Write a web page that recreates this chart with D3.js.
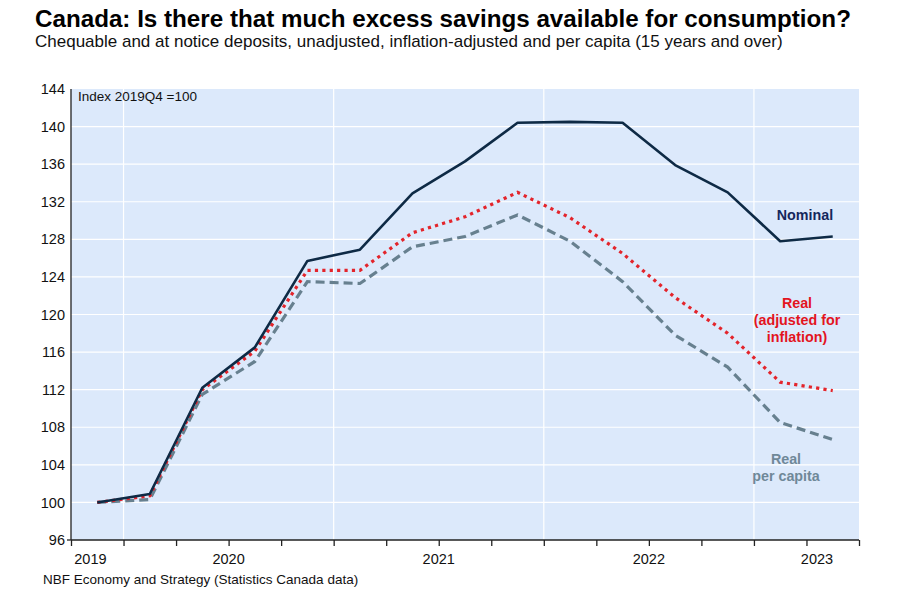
<!DOCTYPE html>
<html><head><meta charset="utf-8">
<script src="https://cdn.jsdelivr.net/npm/d3@7/dist/d3.min.js"></script>
<style>body{margin:0;background:#fff}svg{display:block}text{font-family:"Liberation Sans",Arial,sans-serif}</style>
</head><body>
<script>
// Quarters 2019Q4 .. 2023Q2
const quarters = ["2019Q4","2020Q1","2020Q2","2020Q3","2020Q4","2021Q1","2021Q2","2021Q3","2021Q4","2022Q1","2022Q2","2022Q3","2022Q4","2023Q1","2023Q2"];
const nominal = [100.0,100.9,112.2,116.5,125.7,126.9,132.9,136.3,140.4,140.5,140.4,135.9,133.0,127.8,128.3];
const real    = [100.0,100.7,112.0,116.1,124.7,124.7,128.7,130.4,133.0,130.3,126.5,121.8,118.0,112.8,111.9];
const realPerCapita = [100.0,100.3,111.5,115.0,123.5,123.3,127.2,128.3,130.6,127.8,123.5,117.8,114.4,108.5,106.7];
const yTicks = [96,100,104,108,112,116,120,124,128,132,136,140,144];
const yearLabels = ["2019","2020","2021","2022","2023"];
const yearLabelPos = [0.37,3,7,11,14.2];   // in quarter units from the axis start
const yearStarts = [1,5,9,13];             // quarter boundaries where a new year starts

const W=900,H=603;
const svg=d3.select("body").append("svg").attr("width",W).attr("height",H);
const L=71,R=859,T=89,B=540;
const x=d3.scaleLinear().domain([0,15]).range([L,R]);
const y=d3.scaleLinear().domain([96,144]).range([B,T]);

svg.append("rect").attr("x",L).attr("y",T).attr("width",R-L).attr("height",B-T).attr("fill","#dce9fb");

// gridlines
svg.append("g").selectAll("line").data(yTicks.filter(d=>d>96&&d<144)).join("line")
  .attr("x1",L).attr("x2",R).attr("y1",d=>y(d)).attr("y2",d=>y(d)).attr("stroke","#fff").attr("stroke-width",1.2);
svg.append("g").selectAll("line").data(yearStarts).join("line")
  .attr("x1",d=>x(d)).attr("x2",d=>x(d)).attr("y1",T).attr("y2",B).attr("stroke","#fff").attr("stroke-width",1.2);

// y axis
const ya=svg.append("g").attr("transform",`translate(${L},0)`)
  .call(d3.axisLeft(y).tickValues(yTicks).tickSize(0).tickPadding(6));
ya.select(".domain").remove();
ya.selectAll("text").attr("font-size",14.5).attr("fill","#111").style("font-family","Liberation Sans, Arial, sans-serif");
svg.append("line").attr("x1",L).attr("x2",L).attr("y1",T).attr("y2",B).attr("stroke","#222").attr("stroke-width",1.3);
svg.append("line").attr("x1",L-4).attr("x2",L).attr("y1",B).attr("y2",B).attr("stroke","#222").attr("stroke-width",1.3);

// x axis
const xa=svg.append("g").attr("transform",`translate(0,${B})`)
  .call(d3.axisBottom(x).tickValues(d3.range(0,16)).tickSize(6).tickFormat(""));
xa.select(".domain").attr("stroke","#222").attr("stroke-width",1.5).attr("d",`M${L},0H${R}`);
xa.selectAll(".tick line").attr("stroke","#222").attr("stroke-width",1.3);
svg.append("g").selectAll("text").data(yearLabels).join("text")
  .attr("x",(d,i)=>x(yearLabelPos[i])).attr("y",B+24).attr("text-anchor","middle")
  .attr("font-size",14.5).attr("fill","#111").text(d=>d);

// lines
const line=d3.line().x((d,i)=>x(i+0.5)).y(d=>y(d));
svg.append("path").datum(realPerCapita).attr("d",line).attr("fill","none")
  .attr("stroke","#67808f").attr("stroke-width",3.2).attr("stroke-dasharray","9,5");
svg.append("path").datum(real).attr("d",line).attr("fill","none")
  .attr("stroke","#e3242b").attr("stroke-width",3.2).attr("stroke-dasharray","3.2,4.2");
svg.append("path").datum(nominal).attr("d",line).attr("fill","none")
  .attr("stroke","#0e2a45").attr("stroke-width",2.6).attr("stroke-linejoin","round");

// annotations
svg.append("text").attr("x",78).attr("y",101).attr("font-size",13.5).attr("fill","#111").text("Index 2019Q4 =100");
svg.append("text").attr("x",805).attr("y",220).attr("text-anchor","middle").attr("font-size",14.3)
  .attr("font-weight","bold").attr("fill","#14275c").text("Nominal");
const realLbl=["Real","(adjusted for","inflation)"];
svg.append("g").selectAll("text").data(realLbl).join("text")
  .attr("x",797).attr("y",(d,i)=>308+i*17).attr("text-anchor","middle").attr("font-size",14.3)
  .attr("font-weight","bold").attr("fill","#e3141e").text(d=>d);
const pcLbl=["Real","per capita"];
svg.append("g").selectAll("text").data(pcLbl).join("text")
  .attr("x",786).attr("y",(d,i)=>464+i*17).attr("text-anchor","middle").attr("font-size",14.3)
  .attr("font-weight","bold").attr("fill","#6f8898").text(d=>d);

// titles
svg.append("text").attr("x",35).attr("y",27).attr("font-size",24.2).attr("font-weight","bold").attr("fill","#000")
  .text("Canada: Is there that much excess savings available for consumption?");
svg.append("text").attr("x",35).attr("y",47).attr("font-size",17).attr("fill","#111")
  .text("Chequable and at notice deposits, unadjusted, inflation-adjusted and per capita (15 years and over)");
svg.append("text").attr("x",43).attr("y",584).attr("font-size",13.5).attr("fill","#111")
  .text("NBF Economy and Strategy (Statistics Canada data)");
</script>
</body></html>
